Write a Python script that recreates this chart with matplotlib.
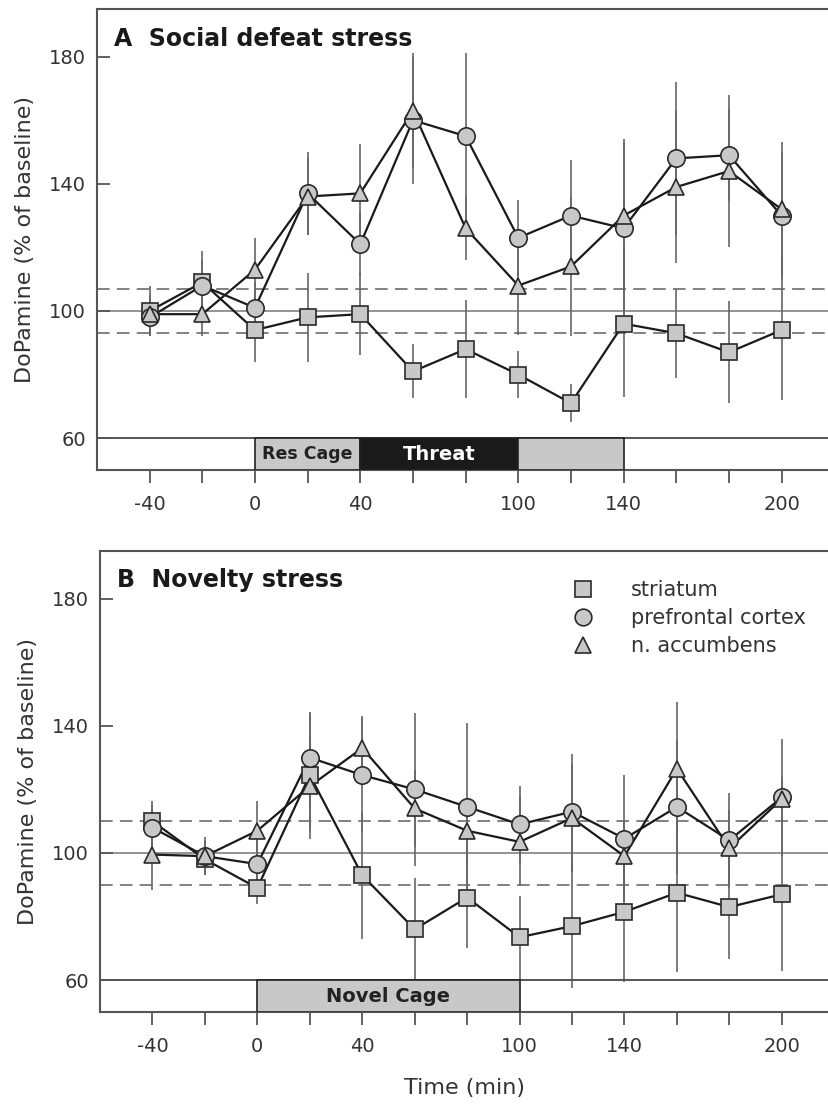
import matplotlib
matplotlib.use('Agg')
import matplotlib.pyplot as plt
from matplotlib.patches import Rectangle
from matplotlib.lines import Line2D

plt.rcParams['font.family'] = ['DejaVu Sans']

# sampling times (min)
time = [-40, -20, 0, 20, 40, 60, 80, 100, 120, 140, 160, 180, 200]

# A: social defeat stress (% of baseline, mean and SEM)
str_a = [100, 109, 94, 98, 99, 81, 88, 80, 71, 96, 93, 87, 94]
str_a_err = [8, 10, 10, 14, 13, 8.5, 15.5, 7.5, 6, 23, 14, 16, 22]
pfc_a = [98, 108, 101, 137, 121, 160, 155, 123, 130, 126, 148, 149, 130]
pfc_a_err = [6, 8, 8, 13, 10, 20, 26, 12, 17.5, 27, 24, 14.5, 20]
nac_a = [99, 99, 113, 136, 137, 163, 126, 108, 114, 130, 139, 144, 132]
nac_a_err = [6, 7, 10, 12, 15.5, 18, 10, 15.5, 22, 24, 24, 24, 21]

# B: novelty stress
str_b = [110, 98, 89, 124.5, 93, 76, 86, 73.5, 77, 81.5, 87.5, 83, 87]
str_b_err = [6.5, 5, 5, 20, 20, 16, 16, 13, 19.5, 22, 25, 16.5, 24]
pfc_b = [108, 99, 96.5, 130, 124.5, 120, 114.5, 109, 113, 104.5, 114.5, 104, 117.5]
pfc_b_err = [7, 5, 8, 14, 18, 24, 26.5, 12, 18, 20, 21, 15, 18.5]
nac_b = [99.5, 99, 107, 121, 133, 114, 107, 103.5, 111, 99, 126.5, 101.5, 117]
nac_b_err = [11, 6, 9.5, 14, 10, 12, 10, 14, 17, 11, 21, 12, 7]

# baseline variability band (+/-)
band_a = 7
band_b = 10

# stimulus periods: (start, end, label, face colour, text colour, font size)
periods_a = [(0, 40, 'Res Cage', '#c8c8c8', '#222222', 12.5),
             (40, 100, 'Threat', '#1a1a1a', 'white', 14),
             (100, 140, '', '#c8c8c8', '#222222', 12)]
periods_b = [(0, 100, 'Novel Cage', '#c8c8c8', '#222222', 14)]

regions = ['striatum', 'prefrontal cortex', 'n. accumbens']
markers = ['s', 'o', '^']

xtick_pos = list(range(-40, 201, 20))
xtick_lab = ['-40', '', '0', '', '40', '', '', '100', '', '140', '', '', '200']

FILL = '#c8c8c8'
EDGE = '#2a2a2a'
SPINE = '#555555'
TXT = '#333333'


def draw_panel(ax, series, band, periods, title, title_y):
    ax.axhline(100, color='#777777', lw=1.1, zorder=0)
    ax.axhline(100 + band, color='#777777', lw=1.3, ls=(0, (7, 4)), zorder=0)
    ax.axhline(100 - band, color='#777777', lw=1.3, ls=(0, (7, 4)), zorder=0)

    for vals, errs in series:
        ax.errorbar(time, vals, yerr=errs, fmt='none', ecolor='#666666',
                    elinewidth=1.2, capsize=0, zorder=1)
    for vals, errs in series:
        ax.plot(time, vals, '-', color='#1a1a1a', lw=1.6, zorder=2)
    for (vals, errs), m in zip(series, markers):
        ms = 11 if m == 's' else 12.5 if m == 'o' else 12
        ax.plot(time, vals, m, ms=ms, mfc=FILL, mec=EDGE, mew=1.2, zorder=3)

    # stimulus bar along the bottom
    ax.axhline(60, color=SPINE, lw=1.4, zorder=4)
    for x0, x1, lab, fc, tc, fs in periods:
        ax.add_patch(Rectangle((x0, 50), x1 - x0, 10, facecolor=fc,
                               edgecolor='#222222', lw=1.2, zorder=5))
        if lab:
            ax.text((x0 + x1) / 2, 55, lab, ha='center', va='center',
                    fontsize=fs, fontweight='bold', color=tc, zorder=6)

    ax.set_xlim(-60, 218)
    ax.set_ylim(50, 195)
    ax.set_yticks([60, 100, 140, 180])
    ax.set_xticks(xtick_pos)
    ax.set_xticklabels(xtick_lab)
    ax.tick_params(axis='y', direction='in', length=9, width=1.3,
                   color=SPINE, labelsize=14, pad=8, labelcolor=TXT)
    ax.tick_params(axis='x', direction='out', length=9, width=1.3,
                   color=SPINE, labelsize=14, pad=9, labelcolor=TXT)
    ax.spines['right'].set_visible(False)
    for s in ['left', 'top', 'bottom']:
        ax.spines[s].set_color(SPINE)
        ax.spines[s].set_linewidth(1.5)
    ax.set_ylabel('DoPamine (% of baseline)', fontsize=16, color=TXT,
                  labelpad=10)
    ax.text(0.023, title_y, title, transform=ax.transAxes, fontsize=17,
            fontweight='bold', color='#1a1a1a', va='top', ha='left')


fig = plt.figure(figsize=(8.29, 11.05), dpi=100)
ax_a = fig.add_axes([0.117, 0.5747, 0.883, 0.4172])
ax_b = fig.add_axes([0.1206, 0.0842, 0.8794, 0.4172])

draw_panel(ax_a, [(str_a, str_a_err), (pfc_a, pfc_a_err), (nac_a, nac_a_err)],
           band_a, periods_a, 'A  Social defeat stress', 0.96)
draw_panel(ax_b, [(str_b, str_b_err), (pfc_b, pfc_b_err), (nac_b, nac_b_err)],
           band_b, periods_b, 'B  Novelty stress', 0.962)

ax_b.set_xlabel('Time (min)', fontsize=16, color=TXT, labelpad=16)

handles = [Line2D([], [], ls='none', marker=m, ms=12, mfc=FILL, mec=EDGE,
                  mew=1.2) for m in markers]
ax_b.legend(handles, regions, loc='upper left', bbox_to_anchor=(0.637, 0.955),
            frameon=False, fontsize=15, handletextpad=1.8, labelspacing=0.38,
            handlelength=1.0, borderaxespad=0, labelcolor=TXT)

fig.savefig('out.png', dpi=100)
